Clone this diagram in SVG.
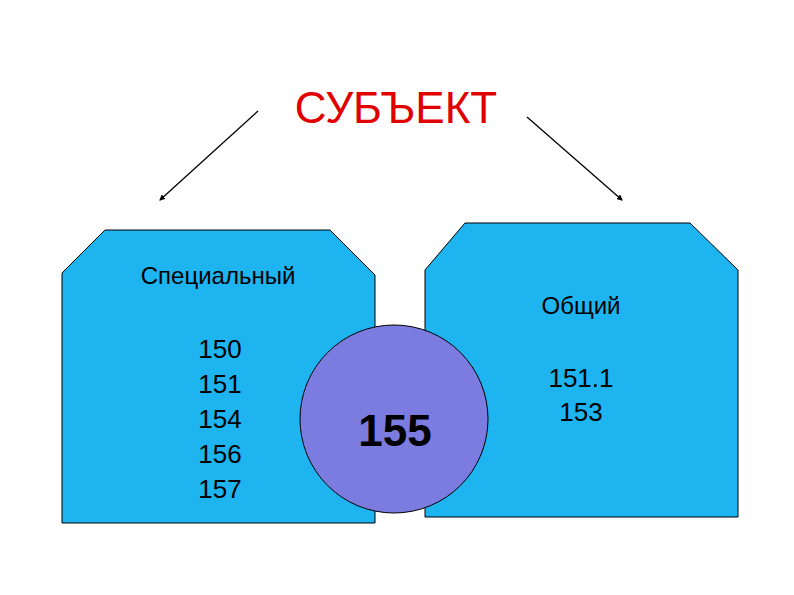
<svg xmlns="http://www.w3.org/2000/svg" width="794" height="595" viewBox="0 0 794 595">
<style>
.box{fill:#1eb4f0;stroke:#000;stroke-width:1}
.t{font-family:"Liberation Sans",Arial,sans-serif;fill:#000;text-anchor:middle}
</style>
<defs><marker id="a" markerWidth="6" markerHeight="6" refX="5" refY="3" orient="auto" markerUnits="userSpaceOnUse"><path d="M0,0L6,3L0,6z" fill="#000"/></marker></defs>
<rect width="794" height="595" fill="#fff"/>
<g id="connectors" stroke="#000" stroke-width="1.3">
<line x1="258" y1="111" x2="160" y2="200" marker-end="url(#a)"/>
<line x1="527" y1="117" x2="622" y2="200" marker-end="url(#a)"/>
</g>
<g id="title"><text class="t" x="396" y="123" font-size="44" style="fill:#e00000">СУБЪЕКТ</text></g>
<g id="special">
<path class="box" d="M62,273L105,230H330L375,275V523H62Z"/>
<text class="t" x="218" y="284" font-size="24">Специальный</text>
<text class="t" x="220" y="358" font-size="26">150</text>
<text class="t" x="220" y="393" font-size="26">151</text>
<text class="t" x="220" y="428" font-size="26">154</text>
<text class="t" x="220" y="463" font-size="26">156</text>
<text class="t" x="220" y="498" font-size="26">157</text>
</g>
<g id="general">
<path class="box" d="M425,270L465,223H690L738,270V517H425Z"/>
<text class="t" x="581" y="314" font-size="24">Общий</text>
<text class="t" x="581" y="387" font-size="26">151.1</text>
<text class="t" x="581" y="421" font-size="26">153</text>
</g>
<g id="common">
<circle cx="394" cy="419" r="94" fill="#7b7be0" stroke="#000"/>
<text class="t" x="395" y="446" font-size="44" font-weight="bold">155</text>
</g>
</svg>
